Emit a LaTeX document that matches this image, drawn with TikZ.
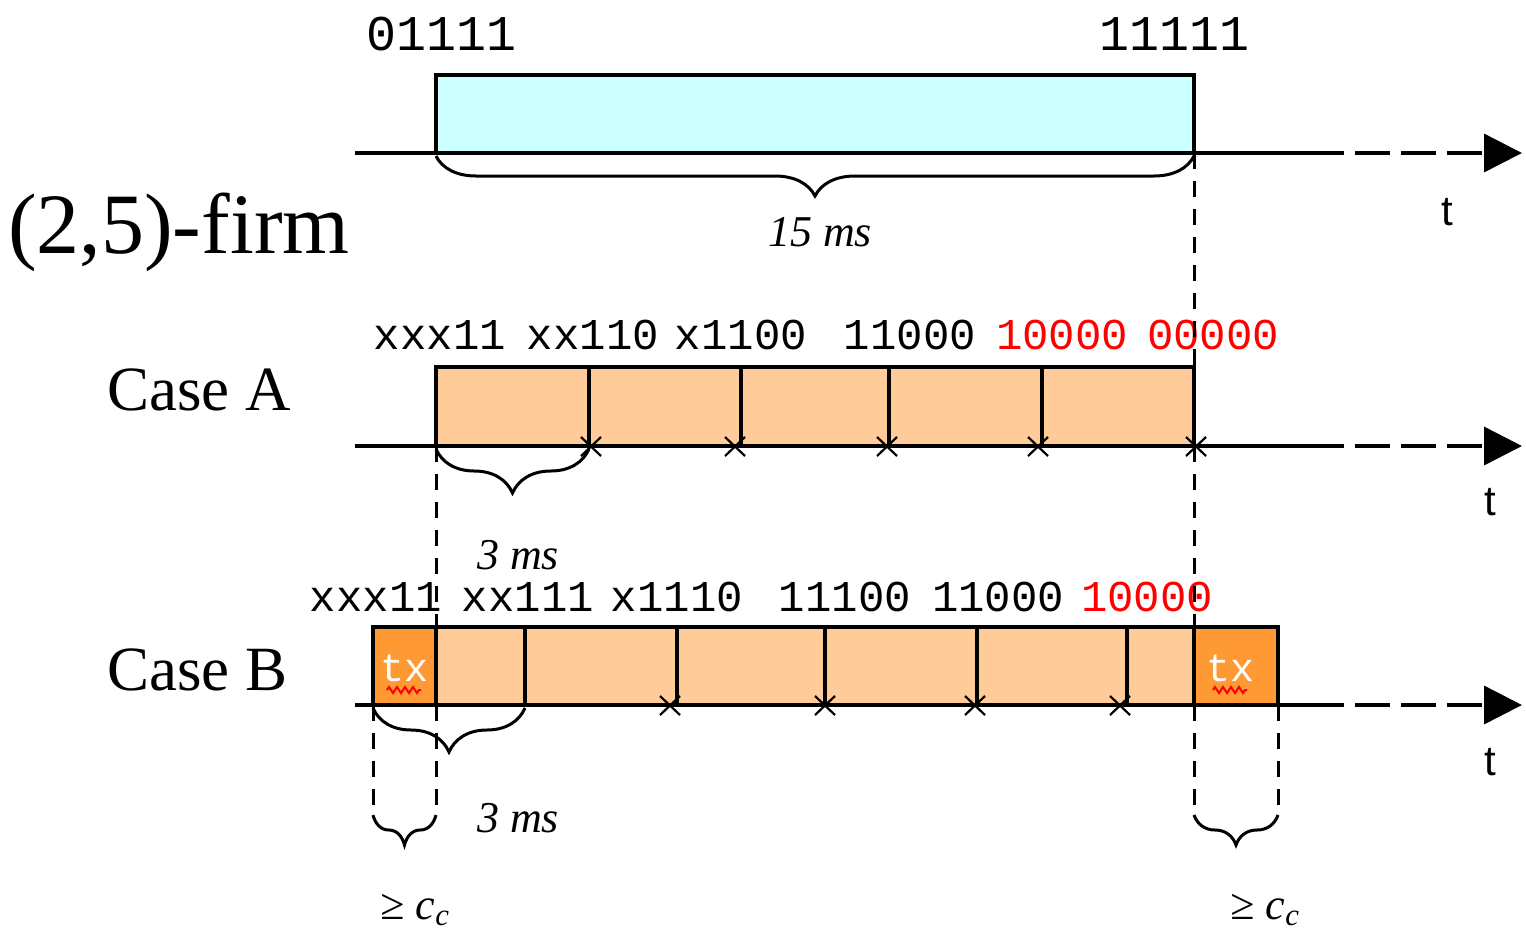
\documentclass[tikz,border=0pt]{standalone}
\usepackage{fontspec}
\setmainfont{Liberation Serif}
\newfontfamily\pixfont{Liberation Mono}
\newfontfamily\tfont{Liberation Sans}
\usetikzlibrary{arrows.meta, decorations.pathreplacing, decorations.pathmorphing, calc}

\definecolor{firmcyan}{HTML}{CCFFFF}
\definecolor{slotorange}{HTML}{FFCC99}
\definecolor{txorange}{HTML}{FF9933}
\definecolor{lostred}{HTML}{FF0000}

\tikzset{
  axisline/.style={line width=3.5pt},
  axistail/.style={line width=3.5pt, dash pattern=on 35pt off 11pt, dash phase=35pt, -{Triangle[length=38pt,width=38pt]}},
  guide/.style={line width=3pt, dash pattern=on 16pt off 12pt},
  slot/.style={draw, line width=3.5pt, fill=slotorange},
  txslot/.style={draw, line width=3.5pt, fill=txorange},
  miss/.style={line width=2.2pt},
  curly/.style={line width=3pt, decorate, decoration={brace, mirror, amplitude=#1}},
  pix/.style={font=\pixfont\fontsize{44}{50}\selectfont, inner sep=0pt},
  pixbig/.style={font=\pixfont\fontsize{50}{56}\selectfont, inner sep=0pt},
  dur/.style={font=\itshape\fontsize{44}{50}\selectfont, inner sep=0pt},
  tlabel/.style={font=\tfont\fontsize{42}{48}\selectfont, inner sep=0pt},
  case/.style={font=\fontsize{63}{70}\selectfont, inner sep=0pt},
  txlabel/.style={font=\pixfont\fontsize{40}{44}\selectfont, text=white, inner sep=0pt}
}

\begin{document}
\begin{tikzpicture}[x=1pt, y=-1pt]
        \useasboundingbox (0,0) rectangle (1526,930);

        % (2,5)-firm window
        \coordinate (S) at (436,153);
        \coordinate (E) at (1194,153);
        \filldraw[fill=firmcyan, line width=3.5pt] (436,75) rectangle (E);
        \draw[axisline] (355,153) -- (1344,153);
        \draw[axistail] (1344,153) -- (1522,153);
        \node[pixbig] (w0) at (442,34) {01111};
        \node[pixbig] (w1) at (1174,34) {11111};
        \node[tlabel] (t0) at (1447,212) {t};
        \draw[curly=40pt] (436,156) -- (1194,156);
        \node[dur] (d0) at (820,232) {15 ms};
        \node[font=\fontsize{86}{90}\selectfont, inner sep=0pt, anchor=west] (firm) at (8,232) {(2,5)-firm};

        % Case A
        \node[case, anchor=west] (caseA) at (107,390) {Case A};
        \foreach \a/\b in {436/589, 589/741, 741/889, 889/1042, 1042/1194}
            \filldraw[slot] (\a,367) rectangle (\b,446);
        \draw[axisline] (355,446) -- (1344,446);
        \draw[axistail] (1344,446) -- (1522,446);
        \foreach \lbl/\x [count=\i] in {xxx11/440, xx110/593, x1100/741, 11000/910}
            \node[pix] (a\i) at (\x,335) {\lbl};
        \node[pix, text=lostred] (a5) at (1062,335) {10000};
        \node[pix, text=lostred] (a6) at (1213,335) {00000};
        \foreach \x in {591,735,887,1038,1196}
            \draw[miss] (\x-10,437) -- (\x+10,456) (\x+10,437) -- (\x-10,456);
        \node[tlabel] (t1) at (1490,502) {t};
        \draw[curly=44pt] (436,449) -- (589,449);
        \node[dur] (d1) at (518,555) {3 ms};

        % Case B
        \node[case, anchor=west] (caseB) at (107,670) {Case B};
        \foreach \a/\b in {436/525, 525/677, 677/825, 825/977, 977/1127, 1127/1194}
            \filldraw[slot] (\a,627) rectangle (\b,705);
        \filldraw[txslot] (373,627) rectangle (436,705);
        \filldraw[txslot] (1194,627) rectangle (1278,705);
        \node[txlabel] (tx0) at (404,668) {tx};
        \node[txlabel] (tx1) at (1230,668) {tx};
        \foreach \x in {404,1230}
            \draw[lostred, line width=2pt, decorate, decoration={zigzag, amplitude=3pt, segment length=8pt}] (\x-17,690) -- (\x+17,690);
        \draw[axisline] (355,705) -- (1344,705);
        \draw[axistail] (1344,705) -- (1522,705);
        \foreach \lbl/\x [count=\i] in {xxx11/376, xx111/528, x1110/677, 11100/845, 11000/998}
            \node[pix] (b\i) at (\x,597) {\lbl};
        \node[pix, text=lostred] (b6) at (1147,597) {10000};
        \foreach \x in {670,825,975,1120}
            \draw[miss] (\x-10,696) -- (\x+10,715) (\x+10,696) -- (\x-10,715);
        \node[tlabel] (t2) at (1490,762) {t};
        \draw[curly=44pt] (373,708) -- (525,708);
        \node[dur] (d2) at (518,818) {3 ms};

        % guide lines
        \draw[guide] (436,446) -- (436,627);
        \draw[guide] (1194,153) -- (1194,367);
        \draw[guide] (1194,446) -- (1194,627);
        \draw[guide] (373,705) -- (373,815);
        \draw[guide] (436,705) -- (436,815);
        \draw[guide] (1194,705) -- (1194,815);
        \draw[guide] (1278,705) -- (1278,815);
        \draw[curly=30pt] (373,815) -- (436,815);
        \draw[curly=30pt] (1194,815) -- (1278,815);
        \node[dur] (c0) at (415,910) {≥ c\textsubscript{c}};
        \node[dur] (c1) at (1265,910) {≥ c\textsubscript{c}};
    \end{tikzpicture}
\end{document}
